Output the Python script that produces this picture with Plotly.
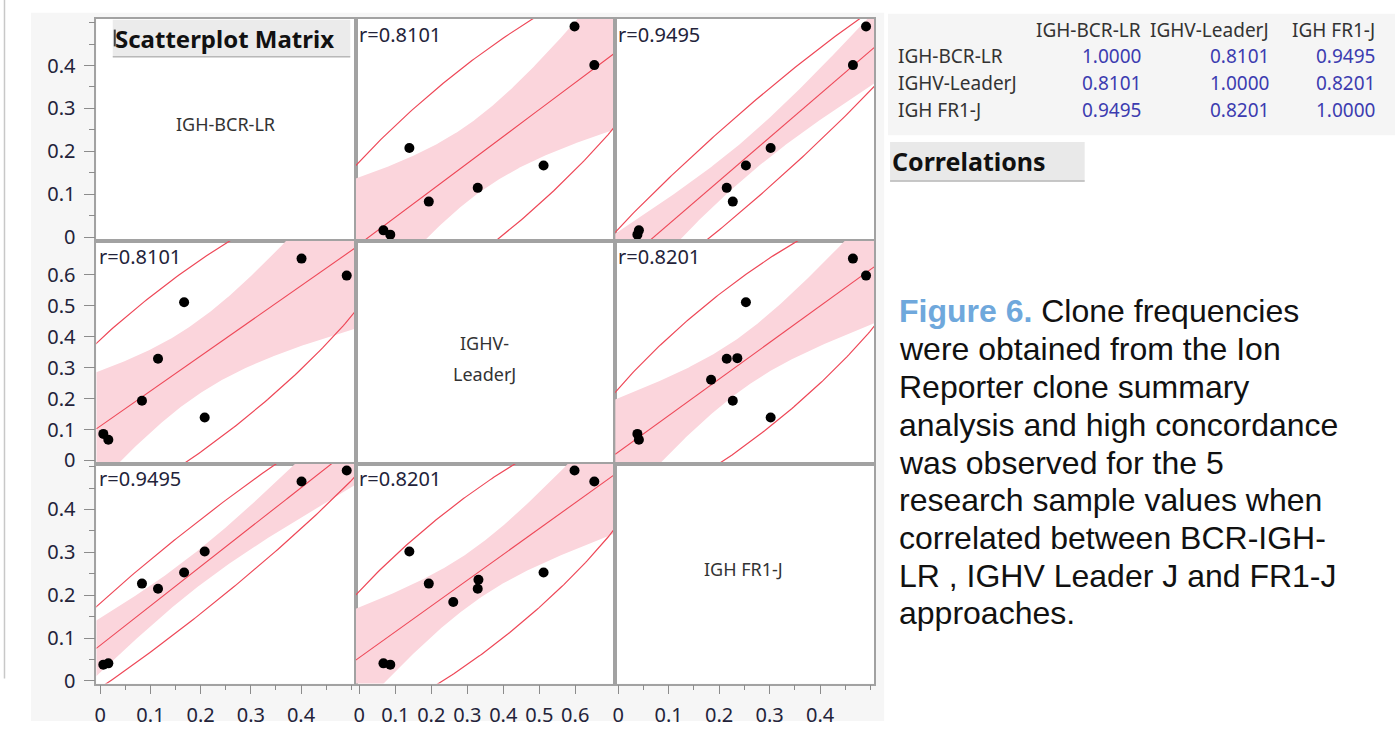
import numpy as np
import plotly.graph_objects as go

# ---------------- data ----------------
VARIABLES = ["IGH-BCR-LR", "IGHV-LeaderJ", "IGH FR1-J"]
DIAGONAL_LABELS = [["IGH-BCR-LR"], ["IGHV-", "LeaderJ"], ["IGH FR1-J"]]
igh_bcr_lr = [0.491, 0.401, 0.208, 0.167, 0.115, 0.083, 0.016, 0.006, None, None]
ighv_leaderj = [0.598, 0.653, 0.139, 0.512, 0.329, 0.193, 0.067, 0.086, 0.331, 0.261]
igh_fr1_j = [0.491, 0.465, 0.302, 0.253, 0.215, 0.227, 0.041, 0.038, 0.236, 0.184]
correlations = [[1.0000, 0.8101, 0.9495],
                [0.8101, 1.0000, 0.8201],
                [0.9495, 0.8201, 1.0000]]
ticks_bcr = [0, 0.1, 0.2, 0.3, 0.4]
ticks_leader = [0, 0.1, 0.2, 0.3, 0.4, 0.5, 0.6]
ticks_fr1 = [0, 0.1, 0.2, 0.3, 0.4]
caption_lines = [
    "<span style='color:#6fa8dc'><b>Figure 6.</b></span> Clone frequencies",
    "were obtained from the Ion",
    "Reporter clone summary",
    "analysis and high concordance",
    "was observed for the 5",
    "research sample values when",
    "correlated between BCR-IGH-",
    "LR , IGHV Leader J and FR1-J",
    "approaches.",
]

# ---------------- geometry / style ----------------
W, H = 1395, 731
col_px = [(93.5, 353.5), (353.5, 613.5), (613.5, 873.0)]
row_px = [(19.0, 244.0), (244.0, 470.0), (470.0, 693.0)]
axis_ranges = [[-0.008, 0.509], [-0.010, 0.711], [-0.006, 0.507]]
tick_lists = [ticks_bcr, ticks_leader, ticks_fr1]
minor_on = [True, False, True]
diag_label_px = [[126], [348, 379], [577]]
RED = "rgb(238,72,88)"
PINK = "rgb(251,213,220)"
FONT = "Noto Sans, Open Sans, sans-serif"
TICKFONT = dict(family=FONT, size=20, color="#23233a")
T975 = {6: 2.4469, 7: 2.3646, 8: 2.3060}
CHI2_95 = 5.9915

series = [np.array(igh_bcr_lr, dtype=float),
          np.array(ighv_leaderj, dtype=float),
          np.array(igh_fr1_j, dtype=float)]


def px_x(x):
    return x / W


def px_y(y):
    return 1 - y / H


fig = go.Figure()
layout = {}
annotations = []

for r in range(3):
    for c in range(3):
        k = r * 3 + c + 1
        xn = "x" if k == 1 else f"x{k}"
        yn = "y" if k == 1 else f"y{k}"
        xkey = "xaxis" if k == 1 else f"xaxis{k}"
        ykey = "yaxis" if k == 1 else f"yaxis{k}"
        bottom = (r == 2)
        left = (c == 0)
        xa = dict(domain=[px_x(col_px[c][0]), px_x(col_px[c][1])],
                  range=axis_ranges[c], anchor=yn, showgrid=False, zeroline=False,
                  showline=True, mirror=True, linecolor="#a2a2a2", linewidth=1.5,
                  fixedrange=True)
        ya = dict(domain=[px_y(row_px[r][1]), px_y(row_px[r][0])],
                  range=axis_ranges[r], anchor=xn, showgrid=False, zeroline=False,
                  showline=True, mirror=True, linecolor="#a2a2a2", linewidth=1.5,
                  fixedrange=True)
        if bottom:
            xa.update(ticks="outside", ticklen=9, tickcolor="#8c8c8c", tickwidth=1,
                      tickvals=tick_lists[c], ticktext=[f"{v:g}" for v in tick_lists[c]],
                      tickfont=TICKFONT, showticklabels=True, ticklabelstandoff=4)
            if minor_on[c]:
                xa["minor"] = dict(ticks="outside", ticklen=5, dtick=0.05, tick0=0,
                                   tickcolor="#8c8c8c", showgrid=False)
        else:
            xa.update(showticklabels=False, ticks="")
        if left:
            ya.update(ticks="outside", ticklen=11, tickcolor="#8c8c8c", tickwidth=1,
                      tickvals=tick_lists[r], ticktext=[f"{v:g}" for v in tick_lists[r]],
                      tickfont=TICKFONT, showticklabels=True, ticklabelstandoff=4)
            if minor_on[r]:
                ya["minor"] = dict(ticks="outside", ticklen=6, dtick=0.05, tick0=0,
                                   tickcolor="#8c8c8c", showgrid=False)
        else:
            ya.update(showticklabels=False, ticks="")
        layout[xkey] = xa
        layout[ykey] = ya

        if r == c:
            # empty trace so that the diagonal cell gets its own axes
            fig.add_trace(go.Scatter(x=[None], y=[None], mode="markers",
                                     showlegend=False, hoverinfo="skip",
                                     xaxis=xn, yaxis=yn))
            for txt, ypx in zip(DIAGONAL_LABELS[r], diag_label_px[r]):
                annotations.append(dict(xref="paper", yref="paper",
                                        x=px_x((col_px[c][0] + col_px[c][1]) / 2 - 1),
                                        y=px_y(ypx), text=txt,
                                        showarrow=False, xanchor="center", yanchor="middle",
                                        font=dict(family=FONT, size=18, color="#333333")))
            continue

        xv, yv = series[c], series[r]
        m = np.isfinite(xv) & np.isfinite(yv)
        x, y = xv[m], yv[m]
        n = len(x)
        xbar, ybar = x.mean(), y.mean()
        sxx = ((x - xbar) ** 2).sum()
        syy = ((y - ybar) ** 2).sum()
        sxy = ((x - xbar) * (y - ybar)).sum()
        b = sxy / sxx
        a = ybar - b * xbar
        resid = y - (a + b * x)
        s = np.sqrt((resid ** 2).sum() / (n - 2))
        t = T975[n - 2]
        xs = np.linspace(axis_ranges[c][0], axis_ranges[c][1], 240)
        yh = a + b * xs
        se = s * np.sqrt(1.0 / n + (xs - xbar) ** 2 / sxx)
        up, lo = yh + t * se, yh - t * se

        fig.add_trace(go.Scatter(x=np.concatenate([xs, xs[::-1]]),
                                 y=np.concatenate([up, lo[::-1]]),
                                 fill="toself", fillcolor=PINK, line=dict(width=0),
                                 mode="lines", hoverinfo="skip", showlegend=False,
                                 xaxis=xn, yaxis=yn))
        cov = np.array([[sxx, sxy], [sxy, syy]]) / (n - 1)
        L = np.linalg.cholesky(cov)
        th = np.linspace(0, 2 * np.pi, 500)
        pts = np.sqrt(CHI2_95) * (L @ np.vstack([np.cos(th), np.sin(th)]))
        fig.add_trace(go.Scatter(x=xbar + pts[0], y=ybar + pts[1], mode="lines",
                                 line=dict(color=RED, width=1.2), hoverinfo="skip",
                                 showlegend=False, xaxis=xn, yaxis=yn))
        fig.add_trace(go.Scatter(x=xs, y=yh, mode="lines",
                                 line=dict(color=RED, width=1.1), hoverinfo="skip",
                                 showlegend=False, xaxis=xn, yaxis=yn))
        fig.add_trace(go.Scatter(x=x, y=y, mode="markers",
                                 marker=dict(color="black", size=10),
                                 showlegend=False, xaxis=xn, yaxis=yn))
        annotations.append(dict(xref=f"{xn} domain", yref=f"{yn} domain",
                                x=0.004, y=1 - 15.5 / 225, xanchor="left", yanchor="middle",
                                text=f"r={correlations[r][c]:.4f}", showarrow=False,
                                font=dict(family=FONT, size=20, color="#23233a")))

# ---------------- background shapes ----------------
shapes = [
    dict(type="rect", xref="paper", yref="paper", layer="below",
         x0=px_x(28), x1=px_x(883), y0=px_y(731), y1=px_y(13),
         fillcolor="#f6f6f6", line=dict(width=0)),
    dict(type="rect", xref="paper", yref="paper", layer="below",
         x0=px_x(93.5), x1=px_x(873), y0=px_y(693), y1=px_y(19),
         fillcolor="white", line=dict(width=0)),
    dict(type="line", xref="paper", yref="paper", x0=px_x(1.5), x1=px_x(1.5),
         y0=px_y(0), y1=px_y(688), line=dict(color="#c8c8c8", width=1.5)),
    # correlation table background
    dict(type="rect", xref="paper", yref="paper", layer="below",
         x0=px_x(887), x1=px_x(1395), y0=px_y(137), y1=px_y(14),
         fillcolor="#f5f5f5", line=dict(width=0)),
    # "Correlations" header box
    dict(type="rect", xref="paper", yref="paper",
         x0=px_x(889), x1=px_x(1084), y0=px_y(184), y1=px_y(144),
         fillcolor="#e9e9e9", line=dict(width=0)),
    dict(type="line", xref="paper", yref="paper", x0=px_x(889), x1=px_x(1084),
         y0=px_y(183.5), y1=px_y(183.5), line=dict(color="#b8b8b8", width=1.5)),
    # "Scatterplot Matrix" header box
    dict(type="rect", xref="paper", yref="paper",
         x0=px_x(110), x1=px_x(348), y0=px_y(58), y1=px_y(20),
         fillcolor="#ebebeb", line=dict(width=0)),
    dict(type="line", xref="paper", yref="paper", x0=px_x(110), x1=px_x(348),
         y0=px_y(57.5), y1=px_y(57.5), line=dict(color="#b8b8b8", width=1.5)),
    dict(type="line", xref="paper", yref="paper", x0=px_x(112), x1=px_x(112),
         y0=px_y(30), y1=px_y(47), line=dict(color="#444444", width=2)),
]

annotations.append(dict(xref="paper", yref="paper", x=px_x(110), y=px_y(39),
                        xanchor="left", yanchor="middle", showarrow=False,
                        text="<b>Scatterplot Matrix</b>",
                        font=dict(family=FONT, size=24, color="#111111")))
annotations.append(dict(xref="paper", yref="paper", x=px_x(889), y=px_y(163),
                        xanchor="left", yanchor="middle", showarrow=False,
                        text="<b>Correlations</b>",
                        font=dict(family=FONT, size=25, color="#111111")))

# correlation table
col_right = [1142, 1271, 1377]
row_y = [57, 84.5, 112]
for j, name in enumerate(VARIABLES):
    annotations.append(dict(xref="paper", yref="paper", x=px_x(col_right[j]), y=px_y(30),
                            xanchor="right", yanchor="middle", showarrow=False, text=name,
                            font=dict(family=FONT, size=19, color="#333333")))
for i, name in enumerate(VARIABLES):
    annotations.append(dict(xref="paper", yref="paper", x=px_x(895), y=px_y(row_y[i]),
                            xanchor="left", yanchor="middle", showarrow=False, text=name,
                            font=dict(family=FONT, size=19, color="#333333")))
    for j in range(3):
        annotations.append(dict(xref="paper", yref="paper", x=px_x(col_right[j]),
                                y=px_y(row_y[i]), xanchor="right", yanchor="middle",
                                showarrow=False, text=f"{correlations[i][j]:.4f}",
                                font=dict(family=FONT, size=19, color="#3c3cb0")))

# caption
cap_y = [315, 353.5, 392, 430.5, 469, 507, 545.5, 584, 622]
for line, yy in zip(caption_lines, cap_y):
    annotations.append(dict(xref="paper", yref="paper", x=px_x(896), y=px_y(yy),
                            xanchor="left", yanchor="middle", showarrow=False, text=line,
                            font=dict(family="Arial, Liberation Sans, sans-serif",
                                      size=32, color="#111111")))

fig.update_layout(width=W, height=H, margin=dict(l=0, r=0, t=0, b=0),
                  paper_bgcolor="white", plot_bgcolor="white",
                  shapes=shapes, annotations=annotations, showlegend=False,
                  hovermode=False, **layout)

fig.write_html("out.html", config={"displayModeBar": False},
               post_script="document.body.style.margin='0px';document.body.style.padding='0px';")
